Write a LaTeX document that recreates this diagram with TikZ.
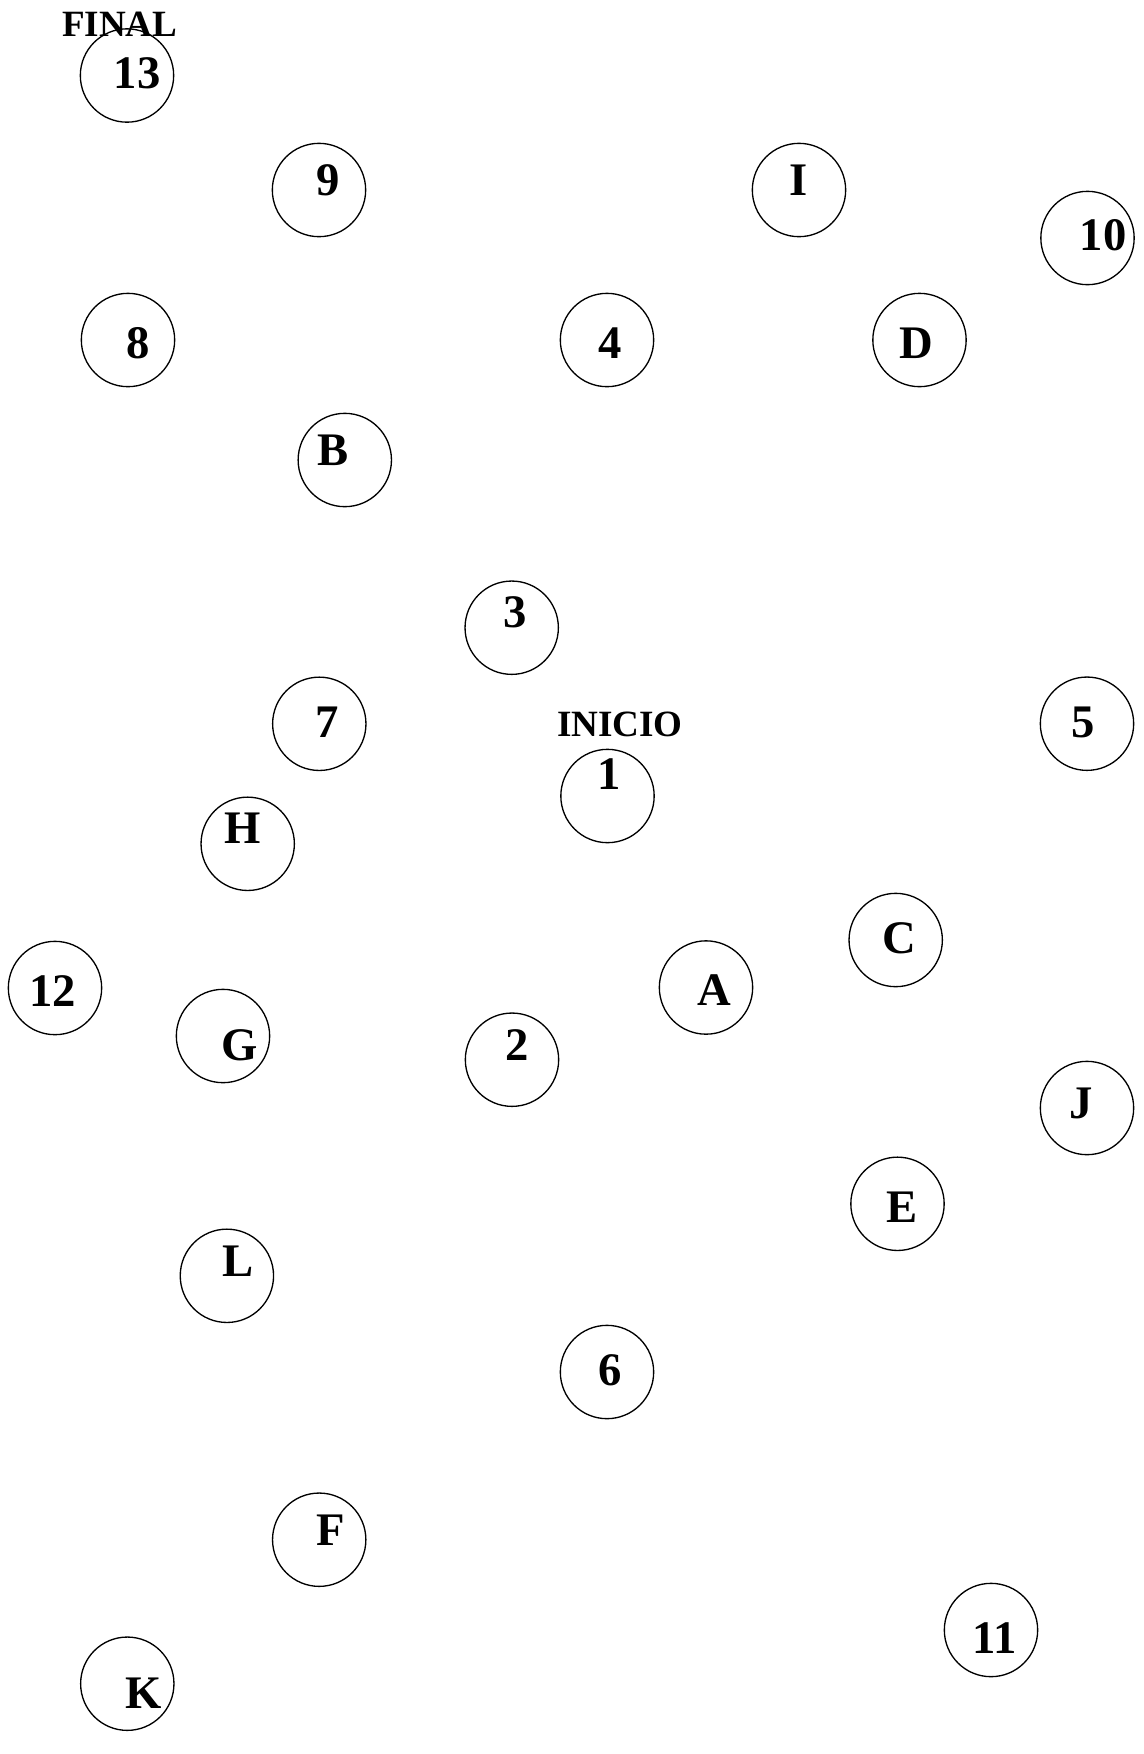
\documentclass[tikz,border=0pt]{standalone}
\usepackage{fontspec}
\setmainfont{Liberation Serif}
\usetikzlibrary{positioning}
\tikzset{
  estado/.style={draw, circle, line width=1pt, minimum size=70pt, inner sep=0pt},
  etiq/.style={anchor=base, inner sep=0pt, font=\bfseries\fontsize{35}{42}\selectfont},
  extremo/.style={anchor=base, inner sep=0pt, font=\bfseries\fontsize{27.8}{33}\selectfont}
}

\begin{document}
\begin{tikzpicture}[x=0.75pt,y=-0.75pt]
  \useasboundingbox (0,0) rectangle (1144,1754);
  % estados: nombre / centro / etiqueta (x, linea base)
  \foreach \n/\cx/\cy/\tx/\ty in {
      13/127/75.5/137/88, 9/319/190/328/195, I/799/190/799/195,
      10/1087.5/238/1103/250, 8/128/340/138.5/358, 4/607/340/610/358,
      D/919.5/340/916/358, B/344.8/460/333/465, 3/511.7/627.7/515.5/627,
      7/319.3/723.8/327.3/737, 5/1087/723.7/1083/737, 1/607.5/796/609/789,
      H/247.7/843.8/242.5/843, C/895.7/940/899/953, 12/55/988/53/1006,
      A/706/987.5/714.5/1005, G/223/1036/240/1060, 2/512/1059.7/517/1060,
      J/1087/1108/1081.5/1118, E/897.5/1203.8/901.6/1222, L/226.9/1275.8/238/1276,
      6/607/1372/610/1385, F/319.2/1539.7/330.7/1545, 11/991/1630/995/1653,
      K/127.3/1683.7/144/1708} {
    \node[estado] (c\n) at (\cx,\cy) {};
    \node[etiq] (t\n) at (\tx,\ty) {\n};
  }
  \node[extremo] (inicio) at (620,736.7) {INICIO};
  \node[extremo] (final) at (119.7,36.7) {FINAL};
\end{tikzpicture}
\end{document}
